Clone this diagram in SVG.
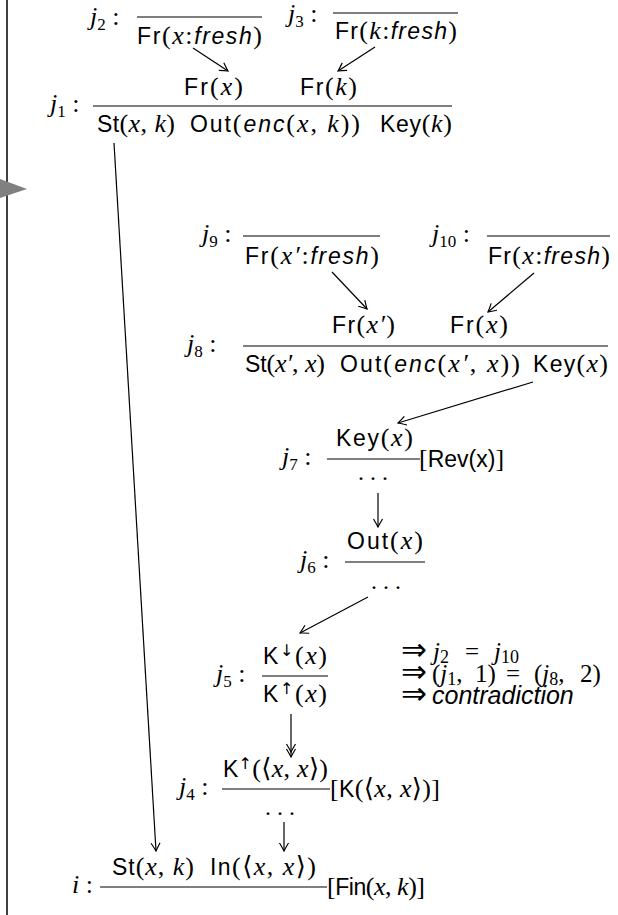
<svg xmlns="http://www.w3.org/2000/svg" width="618" height="915" viewBox="0 0 618 915">
<style>
text { font-family: "Liberation Sans","DejaVu Sans",sans-serif; font-size: 23px; fill: #000; }
.mi { font-family: "Liberation Serif","DejaVu Serif",serif; font-style: italic; font-size: 26px; }
.mr { font-family: "Liberation Serif","DejaVu Serif",serif; font-style: normal; font-size: 26px; }
.si { font-family: "Liberation Sans","DejaVu Sans",sans-serif; font-style: italic; }
.sub { font-family: "Liberation Serif","DejaVu Serif",serif; font-style: normal; font-size: 17px; }
.sup { font-family: "DejaVu Sans",sans-serif; font-size: 16px; }
.arr { font-family: "DejaVu Sans",sans-serif; font-size: 31px; }
.dots { font-family: "Liberation Serif",serif; font-size: 24px; text-anchor: middle; }
.concl .mi, .concl .mr { font-size: 25px; }
.concl .sub { font-size: 18px; }
.rule { stroke: #000; stroke-width: 1.2; }
.conn line { stroke: #000; stroke-width: 1.2; fill: none; }
</style>
<defs>
<marker id="ah" markerUnits="userSpaceOnUse" markerWidth="14" markerHeight="14" refX="11" refY="7" orient="auto">
<path d="M3,2.5 Q8,5.5 11,7 Q8,8.5 3,11.5" fill="none" stroke="#000" stroke-width="1.2"/>
</marker>
<marker id="ah2" markerUnits="userSpaceOnUse" markerWidth="18" markerHeight="14" refX="15" refY="7" orient="auto">
<path d="M2,2.5 Q7,5.5 10,7 Q7,8.5 2,11.5 M7,2.5 Q12,5.5 15,7 Q12,8.5 7,11.5" fill="none" stroke="#000" stroke-width="1.2"/>
</marker>
</defs>

<g id="frame">
<line x1="7" y1="0" x2="7" y2="915" stroke="#000" stroke-width="1.5"/>
<polygon points="0,179 27,189 0,198" fill="#808080"/>
</g>

<g id="j2">
<text x="90" y="25"><tspan class="mi">j</tspan><tspan class="sub" dy="5">2</tspan><tspan class="mr" dy="-5"> :</tspan></text>
<line class="rule" x1="137" y1="17" x2="262" y2="17"/>
<text x="137" y="44" textLength="125"><tspan>Fr</tspan><tspan class="mr">(</tspan><tspan class="mi">x</tspan><tspan class="mr">:</tspan><tspan class="si">fresh</tspan><tspan class="mr">)</tspan></text>
</g>

<g id="j3">
<text x="288" y="22"><tspan class="mi">j</tspan><tspan class="sub" dy="5">3</tspan><tspan class="mr" dy="-5"> :</tspan></text>
<line class="rule" x1="333" y1="13" x2="458" y2="13"/>
<text x="335" y="39" textLength="122"><tspan>Fr</tspan><tspan class="mr">(</tspan><tspan class="mi">k</tspan><tspan class="mr">:</tspan><tspan class="si">fresh</tspan><tspan class="mr">)</tspan></text>
</g>

<g id="j1">
<text x="184" y="95" textLength="59"><tspan>Fr</tspan><tspan class="mr">(</tspan><tspan class="mi">x</tspan><tspan class="mr">)</tspan></text>
<text x="300" y="95" textLength="57"><tspan>Fr</tspan><tspan class="mr">(</tspan><tspan class="mi">k</tspan><tspan class="mr">)</tspan></text>
<text x="50" y="112"><tspan class="mi">j</tspan><tspan class="sub" dy="5">1</tspan><tspan class="mr" dy="-5"> :</tspan></text>
<line class="rule" x1="93" y1="106" x2="452" y2="106"/>
<text x="97" y="132" textLength="78"><tspan>St</tspan><tspan class="mr">(</tspan><tspan class="mi">x</tspan><tspan class="mr">, </tspan><tspan class="mi">k</tspan><tspan class="mr">)</tspan></text>
<text x="190" y="132" textLength="170"><tspan>Out</tspan><tspan class="mr">(</tspan><tspan class="si">enc</tspan><tspan class="mr">(</tspan><tspan class="mi">x</tspan><tspan class="mr">, </tspan><tspan class="mi">k</tspan><tspan class="mr">))</tspan></text>
<text x="380" y="132" textLength="72"><tspan>Key</tspan><tspan class="mr">(</tspan><tspan class="mi">k</tspan><tspan class="mr">)</tspan></text>
</g>

<g id="j9">
<text x="202" y="242"><tspan class="mi">j</tspan><tspan class="sub" dy="5">9</tspan><tspan class="mr" dy="-5"> :</tspan></text>
<line class="rule" x1="243" y1="236" x2="380" y2="236"/>
<text x="245" y="264" textLength="134"><tspan>Fr</tspan><tspan class="mr">(</tspan><tspan class="mi">x′</tspan><tspan class="mr">:</tspan><tspan class="si">fresh</tspan><tspan class="mr">)</tspan></text>
</g>

<g id="j10">
<text x="432" y="242"><tspan class="mi">j</tspan><tspan class="sub" dy="5">10</tspan><tspan class="mr" dy="-5"> :</tspan></text>
<line class="rule" x1="487" y1="236" x2="610" y2="236"/>
<text x="488" y="264" textLength="122"><tspan>Fr</tspan><tspan class="mr">(</tspan><tspan class="mi">x</tspan><tspan class="mr">:</tspan><tspan class="si">fresh</tspan><tspan class="mr">)</tspan></text>
</g>

<g id="j8">
<text x="332" y="333" textLength="63"><tspan>Fr</tspan><tspan class="mr">(</tspan><tspan class="mi">x′</tspan><tspan class="mr">)</tspan></text>
<text x="450" y="333" textLength="58"><tspan>Fr</tspan><tspan class="mr">(</tspan><tspan class="mi">x</tspan><tspan class="mr">)</tspan></text>
<text x="187" y="352"><tspan class="mi">j</tspan><tspan class="sub" dy="5">8</tspan><tspan class="mr" dy="-5"> :</tspan></text>
<line class="rule" x1="243" y1="346" x2="608" y2="346"/>
<text x="245" y="372" textLength="80"><tspan>St</tspan><tspan class="mr">(</tspan><tspan class="mi">x′</tspan><tspan class="mr">, </tspan><tspan class="mi">x</tspan><tspan class="mr">)</tspan></text>
<text x="340" y="372" textLength="180"><tspan>Out</tspan><tspan class="mr">(</tspan><tspan class="si">enc</tspan><tspan class="mr">(</tspan><tspan class="mi">x′</tspan><tspan class="mr">, </tspan><tspan class="mi">x</tspan><tspan class="mr">))</tspan></text>
<text x="533" y="372" textLength="75"><tspan>Key</tspan><tspan class="mr">(</tspan><tspan class="mi">x</tspan><tspan class="mr">)</tspan></text>
</g>

<g id="j7">
<text x="336" y="446" textLength="77"><tspan>Key</tspan><tspan class="mr">(</tspan><tspan class="mi">x</tspan><tspan class="mr">)</tspan></text>
<text x="282" y="465"><tspan class="mi">j</tspan><tspan class="sub" dy="5">7</tspan><tspan class="mr" dy="-5"> :</tspan></text>
<line class="rule" x1="327" y1="459" x2="420" y2="459"/>
<text x="419" y="467" font-size="22"><tspan class="mr" font-size="25">[</tspan><tspan>Rev(x)</tspan><tspan class="mr" font-size="25">]</tspan></text>
<text class="dots" x="373" y="480">. . .</text>
</g>

<g id="j6">
<text x="347" y="549" textLength="76"><tspan>Out</tspan><tspan class="mr">(</tspan><tspan class="mi">x</tspan><tspan class="mr">)</tspan></text>
<text x="300" y="568"><tspan class="mi">j</tspan><tspan class="sub" dy="5">6</tspan><tspan class="mr" dy="-5"> :</tspan></text>
<line class="rule" x1="345" y1="562" x2="425" y2="562"/>
<text class="dots" x="386" y="589">. . .</text>
</g>

<g id="j5">
<text x="263" y="664" textLength="64"><tspan>K</tspan><tspan class="sup" dy="-8">↓</tspan><tspan class="mr" dy="8">(</tspan><tspan class="mi">x</tspan><tspan class="mr">)</tspan></text>
<text x="216" y="682"><tspan class="mi">j</tspan><tspan class="sub" dy="5">5</tspan><tspan class="mr" dy="-5"> :</tspan></text>
<line class="rule" x1="262" y1="676" x2="328" y2="676"/>
<text x="263" y="702" textLength="64"><tspan>K</tspan><tspan class="sup" dy="-8">↑</tspan><tspan class="mr" dy="8">(</tspan><tspan class="mi">x</tspan><tspan class="mr">)</tspan></text>
</g>

<g id="j4">
<text x="223" y="777" textLength="105"><tspan>K</tspan><tspan class="sup" dy="-8">↑</tspan><tspan class="mr" dy="8">(⟨</tspan><tspan class="mi">x</tspan><tspan class="mr">, </tspan><tspan class="mi">x</tspan><tspan class="mr">⟩)</tspan></text>
<text x="179" y="795"><tspan class="mi">j</tspan><tspan class="sub" dy="5">4</tspan><tspan class="mr" dy="-5"> :</tspan></text>
<line class="rule" x1="222" y1="789" x2="330" y2="789"/>
<text x="330" y="797" textLength="110"><tspan class="mr">[</tspan><tspan>K</tspan><tspan class="mr">(⟨</tspan><tspan class="mi">x</tspan><tspan class="mr">, </tspan><tspan class="mi">x</tspan><tspan class="mr">⟩)]</tspan></text>
<text class="dots" x="280" y="815">. . .</text>
</g>

<g id="i">
<text x="112" y="875" textLength="82"><tspan>St</tspan><tspan class="mr">(</tspan><tspan class="mi">x</tspan><tspan class="mr">, </tspan><tspan class="mi">k</tspan><tspan class="mr">)</tspan></text>
<text x="210" y="875" textLength="106"><tspan>In</tspan><tspan class="mr">(⟨</tspan><tspan class="mi">x</tspan><tspan class="mr">, </tspan><tspan class="mi">x</tspan><tspan class="mr">⟩)</tspan></text>
<text x="72" y="893"><tspan class="mi">i</tspan><tspan class="mr"> :</tspan></text>
<line class="rule" x1="100" y1="887" x2="327" y2="887"/>
<text x="327" y="895" textLength="98"><tspan class="mr">[</tspan><tspan>Fin</tspan><tspan class="mr">(</tspan><tspan class="mi">x</tspan><tspan class="mr">, </tspan><tspan class="mi">k</tspan><tspan class="mr">)]</tspan></text>
</g>

<g id="conclusion" class="concl">
<text y="660"><tspan class="arr" x="401">⇒</tspan><tspan class="mi" x="433">j</tspan><tspan class="sub" dy="3">2</tspan><tspan class="mr" x="465" dy="-3">=</tspan><tspan class="mi" x="494">j</tspan><tspan class="sub" dy="3">10</tspan></text>
<text y="682"><tspan class="arr" x="401">⇒</tspan><tspan class="mr" x="432">(</tspan><tspan class="mi">j</tspan><tspan class="sub" dy="3">1</tspan><tspan class="mr" dy="-3">,</tspan><tspan class="mr" x="475">1)</tspan><tspan class="mr" x="506">=</tspan><tspan class="mr" x="534">(</tspan><tspan class="mi">j</tspan><tspan class="sub" dy="3">8</tspan><tspan class="mr" dy="-3">,</tspan><tspan class="mr" x="580">2)</tspan></text>
<text y="704"><tspan class="arr" x="401">⇒</tspan><tspan class="si" x="432" font-size="25">contradiction</tspan></text>
</g>

<g id="connectors" class="conn">
<line x1="193" y1="48" x2="228" y2="71" marker-end="url(#ah)"/>
<line x1="375" y1="47" x2="338" y2="71" marker-end="url(#ah)"/>
<line x1="114" y1="143" x2="156" y2="851" marker-end="url(#ah)"/>
<line x1="332" y1="272" x2="367" y2="309" marker-end="url(#ah)"/>
<line x1="534" y1="273" x2="488" y2="312" marker-end="url(#ah)"/>
<line x1="533" y1="382" x2="398" y2="423" marker-end="url(#ah)"/>
<line x1="378" y1="493" x2="378" y2="527" marker-end="url(#ah)"/>
<line x1="368" y1="597" x2="300" y2="633" marker-end="url(#ah)"/>
<line x1="291" y1="714" x2="291" y2="757" marker-end="url(#ah2)"/>
<line x1="284" y1="822" x2="284" y2="851" marker-end="url(#ah)"/>
</g>
</svg>
